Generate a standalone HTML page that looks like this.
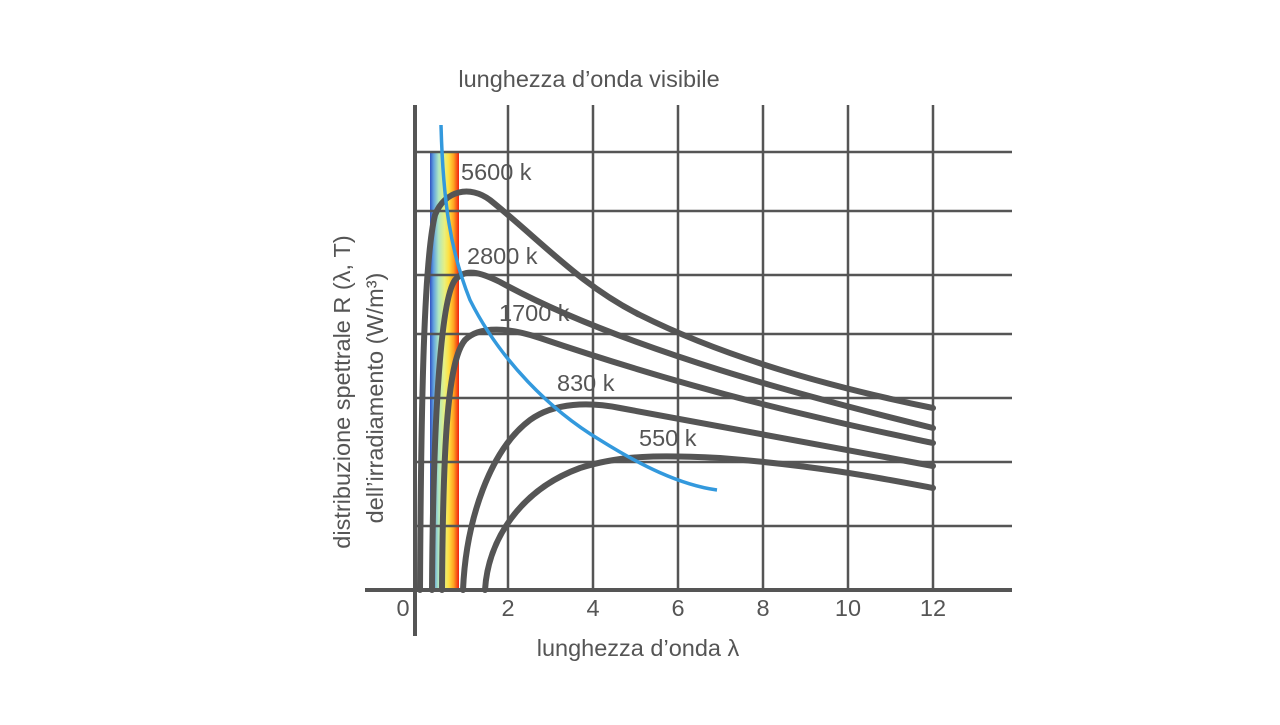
<!DOCTYPE html>
<html><head><meta charset="utf-8"><style>
body{margin:0;background:#fff}
svg text{font-family:"Liberation Sans",sans-serif;fill:#555}
</style></head><body>
<svg width="1280" height="720" viewBox="0 0 1280 720" xmlns="http://www.w3.org/2000/svg">
<defs><linearGradient id="sp" x1="0" x2="1" y1="0" y2="0">
<stop offset="0" stop-color="#3050c0"/><stop offset="0.12" stop-color="#60a0e0"/>
<stop offset="0.3" stop-color="#b0e8c0"/><stop offset="0.5" stop-color="#e8f080"/>
<stop offset="0.65" stop-color="#ffe040"/><stop offset="0.82" stop-color="#ffa020"/>
<stop offset="1" stop-color="#f02010"/></linearGradient></defs>
<rect x="430" y="152" width="29" height="438" fill="url(#sp)"/>
<g stroke="#555" stroke-width="2.5">
<line x1="415" y1="152" x2="1012" y2="152"/><line x1="415" y1="211" x2="1012" y2="211"/>
<line x1="415" y1="275" x2="1012" y2="275"/><line x1="415" y1="334" x2="1012" y2="334"/>
<line x1="415" y1="398" x2="1012" y2="398"/><line x1="415" y1="462" x2="1012" y2="462"/>
<line x1="415" y1="526" x2="1012" y2="526"/>
<line x1="508" y1="105" x2="508" y2="590"/><line x1="593" y1="105" x2="593" y2="590"/>
<line x1="678" y1="105" x2="678" y2="590"/><line x1="763" y1="105" x2="763" y2="590"/>
<line x1="848" y1="105" x2="848" y2="590"/><line x1="933" y1="105" x2="933" y2="590"/>
</g>
<g stroke="#555" stroke-width="4"><line x1="415" y1="105" x2="415" y2="636"/><line x1="365" y1="590" x2="1012" y2="590"/></g>
<g fill="none" stroke="#555" stroke-width="6" stroke-linecap="round" stroke-linejoin="round">
<path d="M420,590 C421,400 424,260 435,215 C445,190 470,185 490,200 C540,240 580,285 640,315 C720,355 820,385 933,408"/>
<path d="M432,590 C433,430 440,300 455,280 C465,268 480,272 500,282 C560,315 640,345 720,370 C800,395 880,415 933,428"/>
<path d="M442,590 C443,440 448,360 465,340 C480,325 510,328 540,338 C620,365 720,395 820,418 C870,430 910,438 933,443"/>
<path d="M463,590 C466,520 490,450 530,420 C555,402 590,402 620,408 C700,422 820,445 933,466"/>
<path d="M485,590 C488,540 520,490 580,468 C620,455 660,455 720,458 C820,466 880,478 933,488"/>
</g>
<path d="M441,125 C443,200 450,250 470,300 C500,360 550,410 600,440 C640,465 680,485 717,490" fill="none" stroke="#3399dd" stroke-width="3.5"/>
<g font-size="23.5">
<text x="461" y="180">5600 k</text><text x="467" y="264">2800 k</text>
<text x="499" y="321">1700 k</text><text x="557" y="391">830 k</text><text x="639" y="446">550 k</text>
</g>
<g font-size="23.5" text-anchor="middle">
<text x="403" y="616">0</text><text x="508" y="616">2</text><text x="593" y="616">4</text>
<text x="678" y="616">6</text><text x="763" y="616">8</text><text x="848" y="616">10</text><text x="933" y="616">12</text>
<text x="589" y="87">lunghezza d’onda visibile</text>
<text x="638" y="656">lunghezza d’onda λ</text>
<text transform="translate(350,392) rotate(-90)">distribuzione spettrale R (λ, T)</text>
<text transform="translate(383,398) rotate(-90)">dell’irradiamento (W/m³)</text>
</g>
</svg>
</body></html>
